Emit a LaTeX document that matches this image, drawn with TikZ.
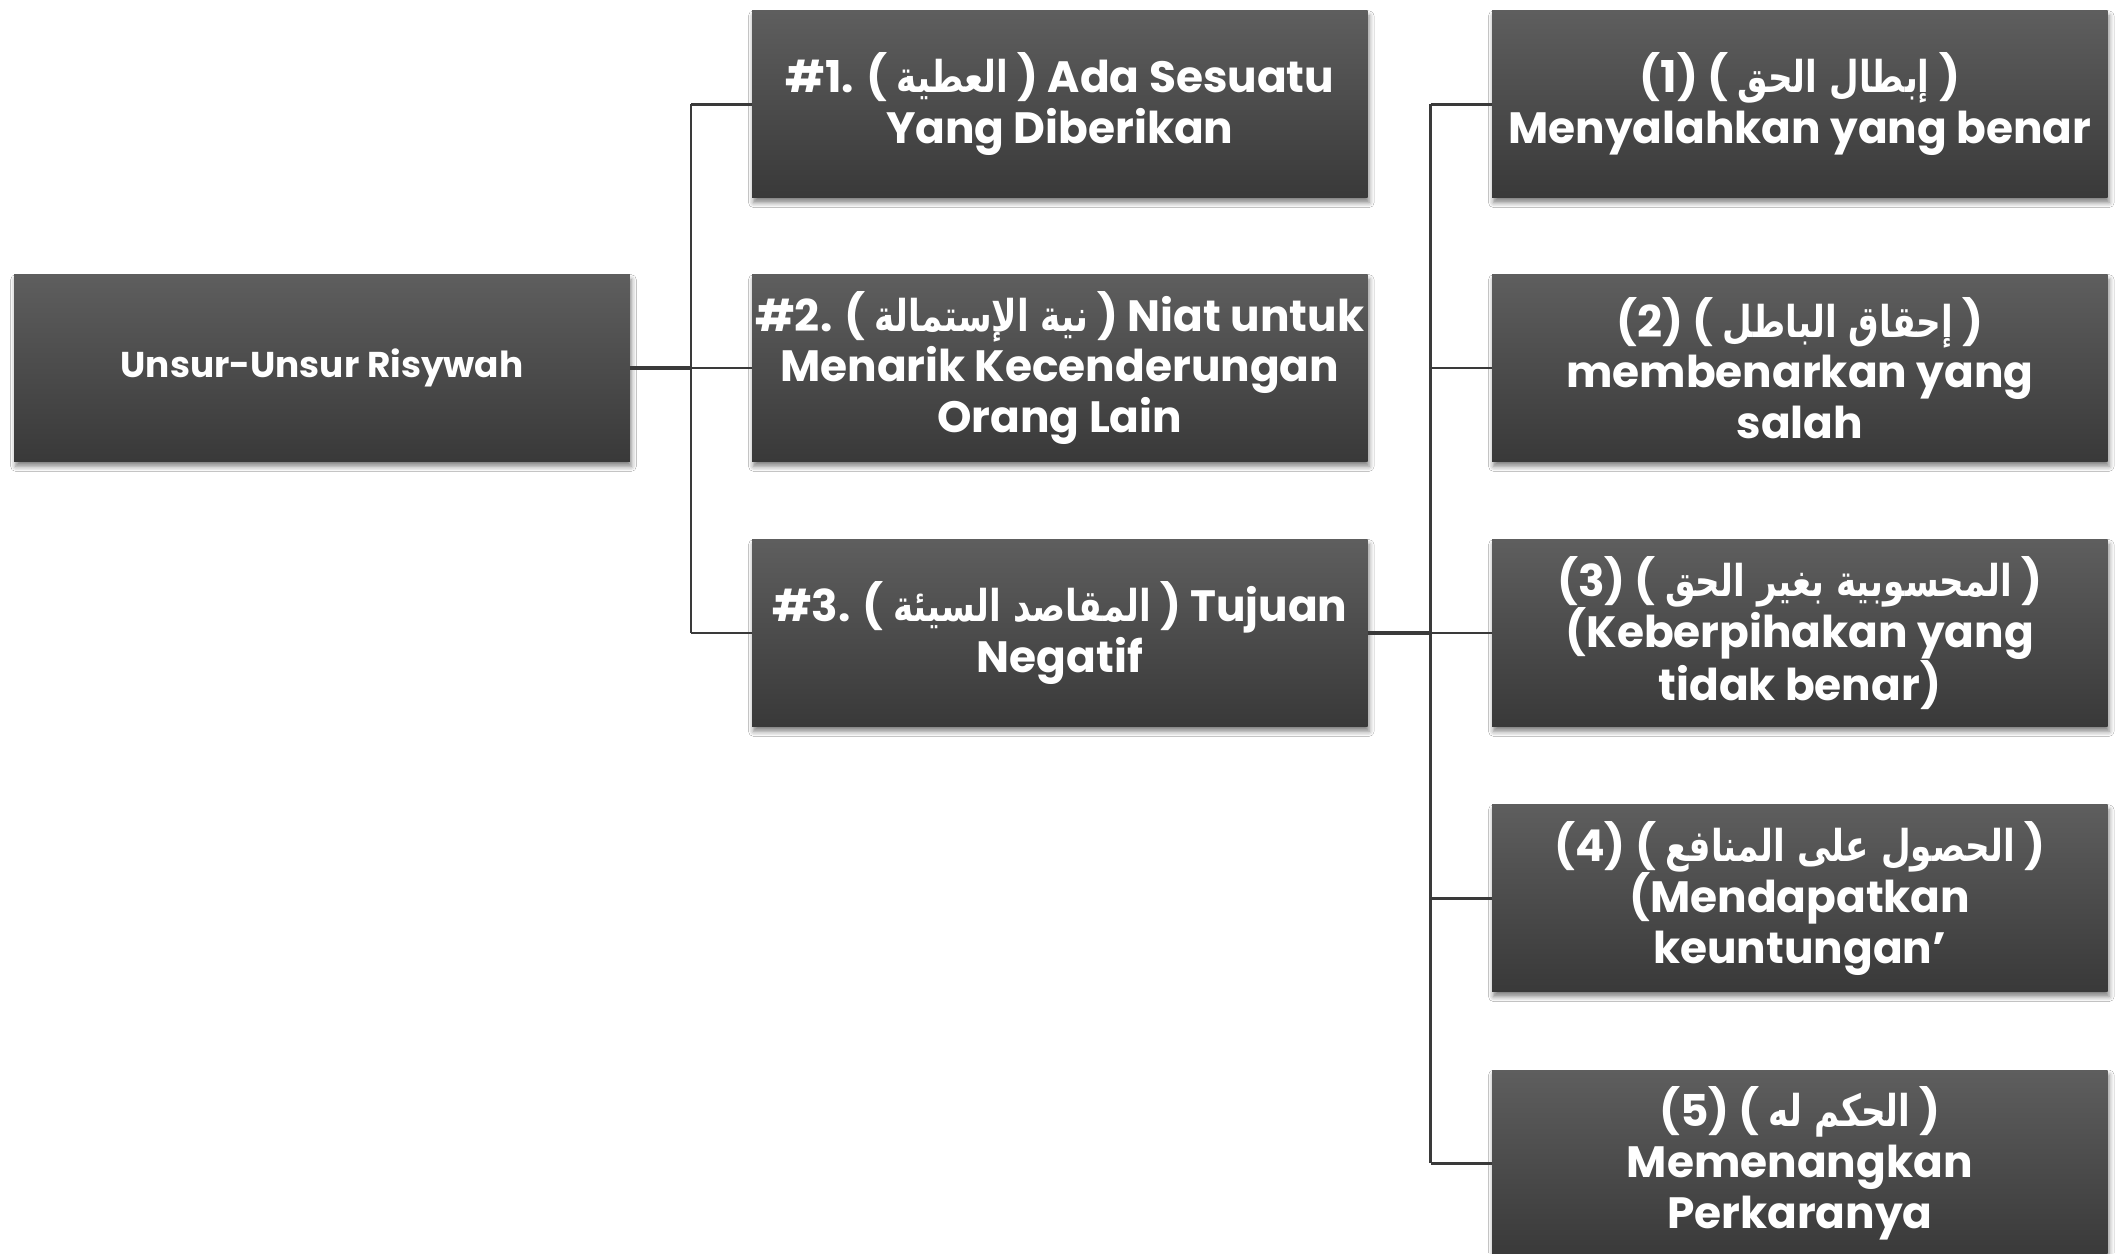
\documentclass[tikz,border=0pt]{standalone}
\usepackage{fontspec}
\setmainfont{Poppins}
\newfontfamily\arabicfont[Script=Arabic, FakeStretch=0.78]{DejaVu Sans}
\TeXXeTstate=1
\usetikzlibrary{shadows.blur}
\newcommand\artxt[1]{{\arabicfont\bfseries\beginR #1\endR}}
\definecolor{boxtop}{HTML}{5E5E5E}
\definecolor{boxbot}{HTML}{393939}
\definecolor{linec}{HTML}{3A3A3A}
\begin{document}
\begin{tikzpicture}[x=1bp,y=-1bp,
  gbox/.style={rectangle, inner sep=0pt, outer sep=0pt,
    minimum width=615.6bp, minimum height=186.7bp,
    top color=boxtop, bottom color=boxbot, text=white, align=center,
    font=\fontsize{44}{51}\selectfont\bfseries,
    blur shadow={shadow xshift=1.5bp, shadow yshift=-5bp, shadow blur radius=5bp, shadow opacity=50}},
  rootfont/.style={font=\fontsize{36}{42}\selectfont\bfseries},
  conn/.style={draw=linec, line width=2.6bp},
  rootconn/.style={draw=linec, line width=3.6bp}]

\useasboundingbox (0,0) rectangle (2121,1253);
\fill[white] (0,0) rectangle (2121,1253);

\node[gbox, rootfont] (root) at (322,368) {Unsur-Unsur Risywah};

\node[gbox] (m1) at (1059.8,104.2) {\#1. ( \artxt{العطية} ) Ada Sesuatu\\Yang Diberikan};
\node[gbox] (m2) at (1059.8,368) {\#2. ( \artxt{نية الإستمالة} ) Niat untuk\\Menarik Kecenderungan\\Orang Lain};
\node[gbox] (m3) at (1059.8,633) {\#3. ( \artxt{المقاصد السيئة} ) Tujuan\\Negatif};

\node[gbox] (r1) at (1799.8,104.2) {(1) ( \artxt{إبطال الحق} )\\Menyalahkan yang benar};
\node[gbox] (r2) at (1799.8,368) {(2) ( \artxt{إحقاق الباطل} )\\membenarkan yang\\salah};
\node[gbox] (r3) at (1799.8,633) {(3) ( \artxt{المحسوبية بغير الحق} )\\(Keberpihakan yang\\tidak benar)};
\node[gbox] (r4) at (1799.8,898.2) {(4) ( \artxt{الحصول على المنافع} )\\(Mendapatkan\\keuntungan’};
\node[gbox] (r5) at (1799.8,1163.4) {(5) ( \artxt{الحكم له} )\\Memenangkan\\Perkaranya};

\coordinate (j1) at (691,368);
\coordinate (j2) at (1430.5,633);

\draw[rootconn] (root.east) -- (j1 |- root.east);
\draw[conn] (j1 |- m1) -- (j1 |- m3);
\draw[conn] (j1 |- m1) -- (m1.west);
\draw[conn] (j1 |- m2) -- (m2.west);
\draw[conn] (j1 |- m3) -- (m3.west);

\draw[rootconn] (m3.east) -- (j2 |- m3.east);
\draw[conn] (j2 |- r1) -- (j2 |- r5);
\draw[conn] (j2 |- r1) -- (r1.west);
\draw[conn] (j2 |- r2) -- (r2.west);
\draw[conn] (j2 |- r3) -- (r3.west);
\draw[conn] (j2 |- r4) -- (r4.west);
\draw[conn] (j2 |- r5) -- (r5.west);
\end{tikzpicture}
\end{document}
